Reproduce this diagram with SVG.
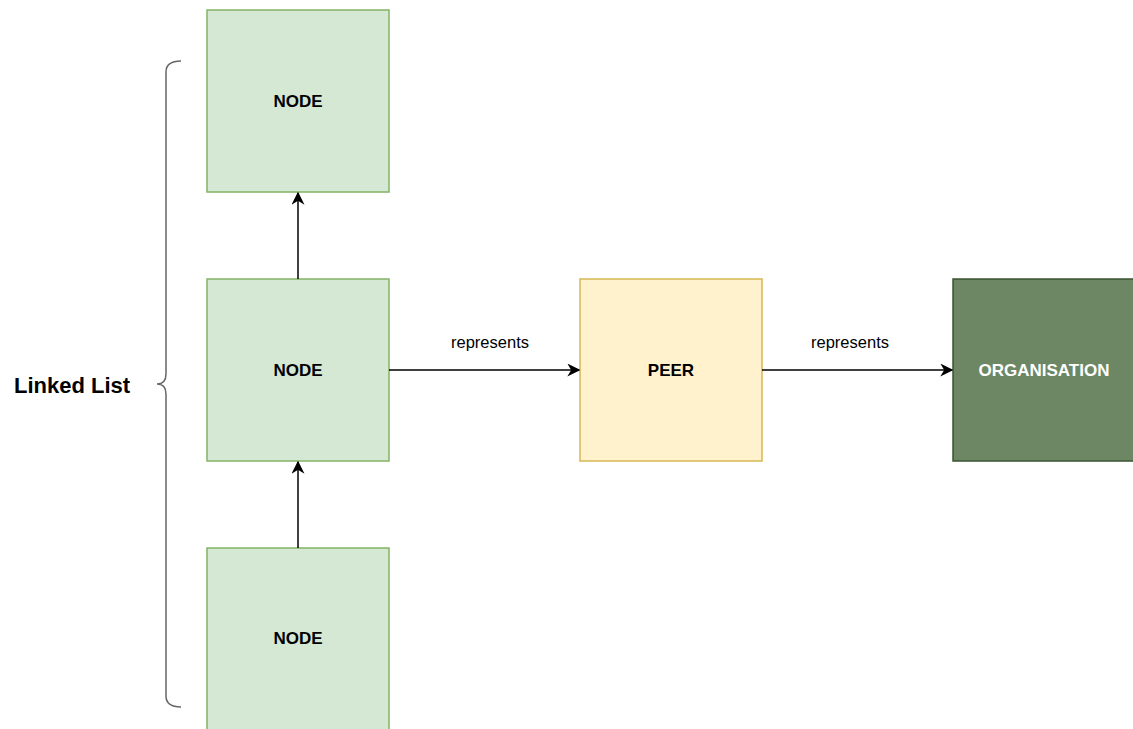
<svg xmlns="http://www.w3.org/2000/svg" width="1133" height="729" viewBox="0 0 1133 729">
  <style>
    .node { fill: #d5e8d4; stroke: #82b366; stroke-width: 1.5; }
    .peer { fill: #fff2cc; stroke: #d6b656; stroke-width: 1.5; }
    .org { fill: #6d8764; stroke: #3a5431; stroke-width: 1.5; }
    .lbl { font-family: "Liberation Sans", Arial, sans-serif; font-size: 17px; font-weight: bold; text-anchor: middle; dominant-baseline: central; fill: #000; }
    .edge-lbl { font-family: "Liberation Sans", Arial, sans-serif; font-size: 16.5px; text-anchor: middle; dominant-baseline: central; fill: #000; }
    .edge { fill: none; stroke: #000; stroke-width: 1.5; marker-end: url(#arrow); }
  </style>
  <defs>
    <marker id="arrow" viewBox="0 0 10 10" refX="9" refY="5" markerWidth="13" markerHeight="13" markerUnits="userSpaceOnUse" orient="auto">
      <path d="M0,0 L10,5 L0,10 L3,5 Z" fill="#000"/>
    </marker>
  </defs>
  <rect width="1133" height="729" fill="#fff"/>

  <g id="brace">
    <path d="M181,61 Q166,61 166,72 L166,374 Q166,384 157,384 Q166,384 166,394 L166,696 Q166,707 181,707" fill="none" stroke="#666" stroke-width="1.5"/>
    <text class="lbl" x="72" y="385" style="font-size:22px">Linked List</text>
  </g>

  <g id="node-top">
    <rect class="node" x="207" y="10" width="182" height="182"/>
    <text class="lbl" x="298" y="101">NODE</text>
  </g>
  <g id="node-middle">
    <rect class="node" x="207" y="279" width="182" height="182"/>
    <text class="lbl" x="298" y="370">NODE</text>
  </g>
  <g id="node-bottom">
    <rect class="node" x="207" y="548" width="182" height="182"/>
    <text class="lbl" x="298" y="638">NODE</text>
  </g>
  <g id="peer">
    <rect class="peer" x="580" y="279" width="182" height="182"/>
    <text class="lbl" x="671" y="370">PEER</text>
  </g>
  <g id="organisation">
    <rect class="org" x="953" y="279" width="182" height="182"/>
    <text class="lbl" x="1044" y="370" style="fill:#fff">ORGANISATION</text>
  </g>

  <g id="connectors">
    <path class="edge" d="M298,279 L298,193"/>
    <path class="edge" d="M298,548 L298,462"/>
    <path class="edge" d="M389,370 L579,370"/>
    <path class="edge" d="M762,370 L952,370"/>
    <text class="edge-lbl" x="490" y="342">represents</text>
    <text class="edge-lbl" x="850" y="342">represents</text>
  </g>
</svg>
